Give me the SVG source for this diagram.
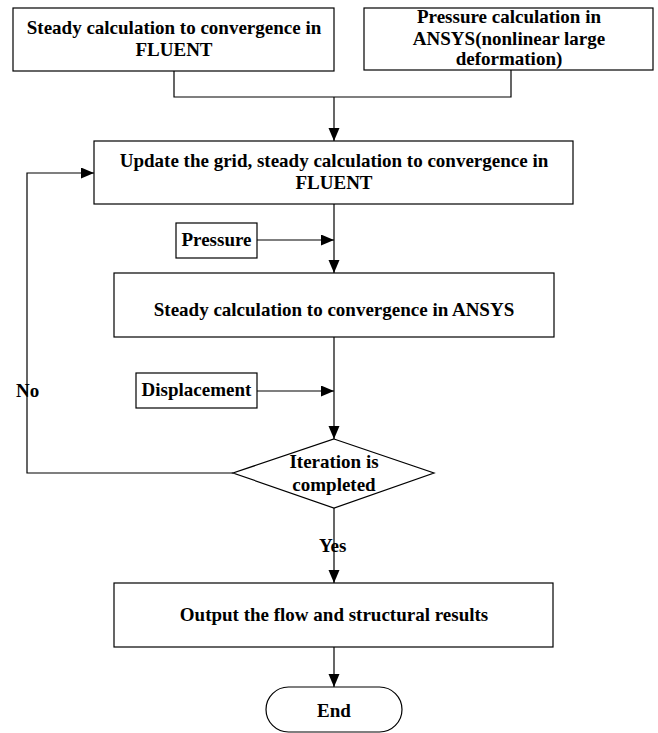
<svg xmlns="http://www.w3.org/2000/svg" width="658" height="733" viewBox="0 0 658 733">
<defs>
<style>
.b{fill:#fff;stroke:#000;stroke-width:1.2}
.t{font-family:"Liberation Serif","Times New Roman",serif;font-weight:bold;font-size:19px;fill:#000;text-anchor:middle}
.l{font-family:"Liberation Serif","Times New Roman",serif;font-weight:bold;font-size:19px;fill:#000}
.c{fill:none;stroke:#000;stroke-width:1.2}
</style>
<marker id="ah" markerUnits="userSpaceOnUse" markerWidth="14" markerHeight="12" refX="13" refY="5.5" orient="auto">
<path d="M0,0 L13,5.5 L0,11 Z" fill="#000"/>
</marker>
</defs>
<rect width="658" height="733" fill="#fff"/>
<g id="connectors">
<polyline class="c" points="174,71 174,97 511,97 511,70"/>
<line class="c" x1="334" y1="97" x2="334" y2="141" marker-end="url(#ah)"/>
<polyline class="c" points="233,473 27,473 27,173 94,173" marker-end="url(#ah)"/>
<line class="c" x1="334" y1="204" x2="334" y2="273" marker-end="url(#ah)"/>
<line class="c" x1="257" y1="240" x2="334" y2="240" marker-end="url(#ah)"/>
<line class="c" x1="334" y1="337" x2="334" y2="439" marker-end="url(#ah)"/>
<line class="c" x1="257" y1="391" x2="334" y2="391" marker-end="url(#ah)"/>
<line class="c" x1="334" y1="508" x2="334" y2="583" marker-end="url(#ah)"/>
<line class="c" x1="334" y1="647" x2="334" y2="687" marker-end="url(#ah)"/>
<text class="l" x="16" y="397">No</text>
<text class="l" x="319" y="552">Yes</text>
</g>
<g id="n1">
<rect class="b" x="13" y="8" width="321" height="63"/>
<text class="t" x="174" y="34">Steady calculation to convergence in</text>
<text class="t" x="174" y="56">FLUENT</text>
</g>
<g id="n2">
<rect class="b" x="364" y="8" width="289" height="62"/>
<text class="t" x="509" y="23">Pressure calculation in</text>
<text class="t" x="509" y="45">ANSYS(nonlinear large</text>
<text class="t" x="509" y="65">deformation)</text>
</g>
<g id="n3">
<rect class="b" x="94" y="141" width="479" height="63"/>
<text class="t" x="334" y="167">Update the grid, steady calculation to convergence in</text>
<text class="t" x="334" y="189">FLUENT</text>
</g>
<g id="pressure">
<rect class="b" x="176" y="223" width="81" height="35"/>
<text class="t" x="216.5" y="246">Pressure</text>
</g>
<g id="n4">
<rect class="b" x="114" y="273" width="440" height="64"/>
<text class="t" x="334" y="316">Steady calculation to convergence in ANSYS</text>
</g>
<g id="displacement">
<rect class="b" x="136" y="373" width="121" height="35"/>
<text class="t" x="196.5" y="396">Displacement</text>
</g>
<g id="decision">
<polygon class="b" points="334,439 434,473 334,508 233,473"/>
<text class="t" x="334" y="468">Iteration is</text>
<text class="t" x="334" y="491">completed</text>
</g>
<g id="n5">
<rect class="b" x="114" y="583" width="439" height="64"/>
<text class="t" x="334" y="621">Output the flow and structural results</text>
</g>
<g id="end">
<rect class="b" x="266" y="687" width="136" height="45" rx="22.5" ry="22.5"/>
<text class="t" x="334" y="717">End</text>
</g>
</svg>
